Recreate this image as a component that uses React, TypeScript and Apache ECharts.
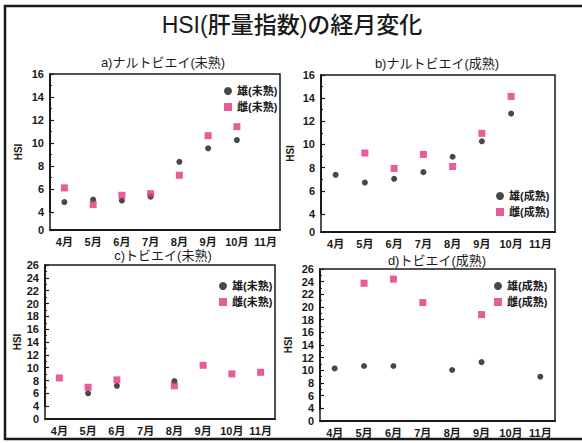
import React, { useEffect, useRef } from "react";
import * as echarts from "echarts";

// Months on the horizontal axis
const months = ["4月", "5月", "6月", "7月", "8月", "9月", "10月", "11月"];

// a) ナルトビエイ (未熟)
const naruMaleImmature = [4.87, 5.08, 5.0, 5.34, 8.37, 9.54, 10.26, null];
const naruFemaleImmature = [6.1, 4.65, 5.46, 5.6, 7.2, 10.64, 11.42, null];
// b) ナルトビエイ (成熟)
const naruMaleMature = [7.38, 6.71, 7.03, 7.61, 8.94, 10.27, 12.67, null];
const naruFemaleMature = [null, 9.26, 7.93, 9.14, 8.1, 10.96, 14.15, null];
// c) トビエイ (未熟)
const tobiMaleImmature = [null, 6.0, 7.17, null, 7.9, null, null, null];
const tobiFemaleImmature = [8.4, 6.95, 8.1, null, 7.17, 10.37, 9.03, 9.28];
// d) トビエイ (成熟)
const tobiMaleMature = [10.3, 10.68, 10.68, null, 10.05, 11.3, null, 9.0];
const tobiFemaleMature = [null, 23.75, 24.4, 20.7, null, 18.8, null, null];

const mainTitle = "HSI(肝量指数)の経月変化";
const panelTitles = [
  "a)ナルトビエイ(未熟)",
  "b)ナルトビエイ(成熟)",
  "c)トビエイ(未熟)",
  "d)トビエイ(成熟)",
];
const maleImm = "雄(未熟)";
const femaleImm = "雌(未熟)";
const maleMat = "雄(成熟)";
const femaleMat = "雌(成熟)";

const FONT = "'Liberation Sans', 'Noto Sans CJK JP', sans-serif";
const INK = "#1a1a1a";
const PINK = "#e0347f";

const toPoints = (vals: (number | null)[]) =>
  vals
    .map((v, i) => (v == null ? null : [months[i], v]))
    .filter((p) => p !== null);

export default function App() {
  const ref = useRef<HTMLDivElement>(null);

  useEffect(() => {
    if (!ref.current) return;
    const chart = echarts.init(ref.current, null, { renderer: "svg" });

    const grids = [
      { left: 50, top: 74, width: 230, height: 156 },
      { left: 321, top: 75, width: 234, height: 157 },
      { left: 45, top: 265, width: 230, height: 154 },
      { left: 320, top: 269, width: 235, height: 152 },
    ];
    const yMax = [16, 16, 26, 26];
    // the 0–4 stretch of each value axis is squeezed into a short broken segment
    const breakGaps = [1.56, 1.56, 2, 2];
    const nameGaps = [27, 26, 23, 27];

    const xAxis = grids.map((_, i) => ({
      type: "category",
      gridIndex: i,
      data: months,
      boundaryGap: true,
      axisLine: { lineStyle: { color: INK, width: 2 } },
      axisTick: { inside: true, alignWithLabel: true, length: 4, lineStyle: { color: INK, width: 1.5 } },
      axisLabel: { interval: 0, color: INK, fontFamily: FONT, fontWeight: "bold", fontSize: 11, margin: 6 },
      splitLine: { show: false },
    }));

    const yAxis = grids.map((_, i) => ({
      type: "value",
      gridIndex: i,
      min: 0,
      max: yMax[i],
      interval: 2,
      breaks: [{ start: 0, end: 4, gap: breakGaps[i] }],
      breakArea: { show: false },
      name: "HSI",
      nameLocation: "middle",
      nameGap: nameGaps[i],
      nameMoveOverlap: false,
      nameTextStyle: { color: INK, fontFamily: FONT, fontWeight: "bold", fontSize: 10 },
      axisLine: { show: true, lineStyle: { color: INK, width: 2 } },
      axisTick: { show: true, inside: true, length: 4, lineStyle: { color: INK, width: 1.2 } },
      minorTick: { show: true, splitNumber: 2, length: 2, lineStyle: { color: INK, width: 1 } },
      axisLabel: {
        color: INK,
        fontFamily: FONT,
        fontWeight: "bold",
        fontSize: 11,
        margin: 6,
        hideOverlap: false,
        showMinLabel: true,
        showMaxLabel: true,
        formatter: (v: number) => String(Math.round(v)),
      },
      splitLine: { show: false },
    }));

    const male = (name: string, idx: number, vals: (number | null)[]) => ({
      type: "scatter",
      name,
      xAxisIndex: idx,
      yAxisIndex: idx,
      data: toPoints(vals),
      symbol: "circle",
      symbolSize: 6,
      itemStyle: { color: INK },
    });
    const female = (name: string, idx: number, vals: (number | null)[]) => ({
      type: "scatter",
      name,
      xAxisIndex: idx,
      yAxisIndex: idx,
      data: toPoints(vals),
      symbol: "rect",
      symbolSize: 7,
      itemStyle: { color: PINK },
    });

    const legend = (names: string[], left: number, top: number) => ({
      data: names,
      orient: "vertical",
      left,
      top,
      itemWidth: 8,
      itemHeight: 8,
      itemGap: 4,
      padding: 0,
      selectedMode: false,
      textStyle: { color: INK, fontFamily: FONT, fontWeight: "bold", fontSize: 11, lineHeight: 12 },
    });

    const titleCenters = [
      [163, 62],
      [437, 63],
      [163, 255],
      [437, 260],
    ];

    chart.setOption({
      animation: false,
      backgroundColor: "#ffffff",
      grid: grids.map((g) => ({
        ...g,
        show: true,
        borderColor: INK,
        borderWidth: 1.5,
        backgroundColor: "transparent",
      })),
      xAxis,
      yAxis,
      legend: [
        legend([maleImm, femaleImm], 224, 85),
        legend([maleMat, femaleMat], 496, 190),
        legend([maleImm, femaleImm], 219, 280),
        legend([maleMat, femaleMat], 494, 280),
      ],
      series: [
        male(maleImm, 0, naruMaleImmature),
        female(femaleImm, 0, naruFemaleImmature),
        male(maleMat, 1, naruMaleMature),
        female(femaleMat, 1, naruFemaleMature),
        male(maleImm, 2, tobiMaleImmature),
        female(femaleImm, 2, tobiFemaleImmature),
        male(maleMat, 3, tobiMaleMature),
        female(femaleMat, 3, tobiFemaleMature),
      ],
      graphic: [
        {
          type: "rect",
          shape: { x: 5, y: 6, width: 620, height: 433 },
          style: { fill: "none", stroke: INK, lineWidth: 2.5 },
          silent: true,
        },
        {
          type: "text",
          x: 292,
          y: 25,
          style: {
            text: mainTitle,
            fill: INK,
            font: `500 23px ${FONT}`,
            textAlign: "center",
            textVerticalAlign: "middle",
          },
        },
        ...panelTitles.map((t, i) => ({
          type: "text",
          x: titleCenters[i][0],
          y: titleCenters[i][1],
          style: {
            text: t,
            fill: INK,
            font: `13px ${FONT}`,
            textAlign: "center",
            textVerticalAlign: "middle",
          },
        })),
      ],
    });

    return () => chart.dispose();
  }, []);

  return (
    <div
      ref={ref}
      style={{ position: "fixed", left: 0, top: 0, width: 582, height: 443, background: "#fff" }}
    />
  );
}
